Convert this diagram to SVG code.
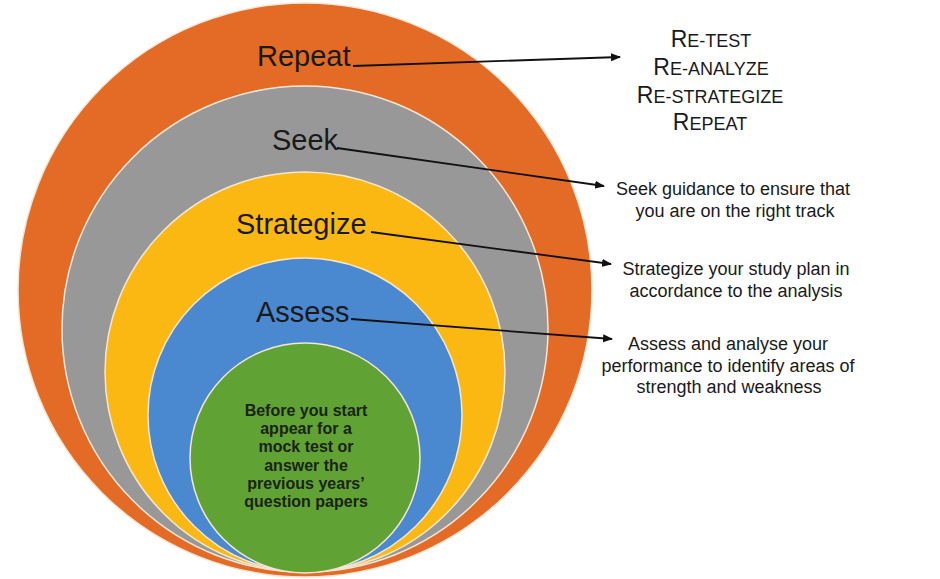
<svg xmlns="http://www.w3.org/2000/svg" width="940" height="579" viewBox="0 0 940 579">
<defs>
<style>
.ring{stroke:#f3e6d6;stroke-width:1.5}
.lbl{font-family:"Liberation Sans",Arial,sans-serif;font-size:29px;fill:#1a1a1a}
.desc{font-family:"Liberation Sans",Arial,sans-serif;font-size:18px;fill:#1a1a1a;text-anchor:middle}
.core{font-family:"Liberation Sans",Arial,sans-serif;font-size:16px;font-weight:bold;fill:#1b2414;text-anchor:middle}
.sc{font-family:"Liberation Sans",Arial,sans-serif;font-size:23px;fill:#1a1a1a;text-anchor:middle}
.sm{font-size:18px}
.conn{stroke:#111;stroke-width:1.8;fill:none;marker-end:url(#ah)}
</style>
<marker id="ah" markerWidth="10" markerHeight="8" refX="9" refY="4" orient="auto" markerUnits="userSpaceOnUse">
<path d="M0,0 L10,4 L0,8 Z" fill="#111"/>
</marker>
</defs>
<rect width="940" height="579" fill="#ffffff"/>
<g id="repeat">
<circle class="ring" cx="305" cy="290" r="287" fill="#E46B25"/>
<text class="lbl" x="257" y="66">Repeat</text>
</g>
<g id="seek">
<circle class="ring" cx="305" cy="329" r="243" fill="#989898"/>
<text class="lbl" x="272" y="150">Seek</text>
</g>
<g id="strategize">
<circle class="ring" cx="305" cy="372" r="200" fill="#FBB812"/>
<text class="lbl" x="236" y="234">Strategize</text>
</g>
<g id="assess">
<circle class="ring" cx="305" cy="415" r="157" fill="#4A88CF"/>
<text class="lbl" x="256" y="322">Assess</text>
</g>
<g id="start">
<circle class="ring" cx="305" cy="458" r="115" fill="#60A233"/>
<text class="core" x="306" y="416">Before you start</text>
<text class="core" x="306" y="434">appear for a</text>
<text class="core" x="306" y="452">mock test or</text>
<text class="core" x="306" y="471">answer the</text>
<text class="core" x="306" y="489">previous years’</text>
<text class="core" x="306" y="507">question papers</text>
</g>
<g id="repeat-desc">
<text class="sc" x="711" y="47">R<tspan class="sm">E-TEST</tspan></text>
<text class="sc" x="711" y="75">R<tspan class="sm">E-ANALYZE</tspan></text>
<text class="sc" x="710" y="103">R<tspan class="sm">E-STRATEGIZE</tspan></text>
<text class="sc" x="710" y="130">R<tspan class="sm">EPEAT</tspan></text>
</g>
<g id="seek-desc">
<text class="desc" x="733" y="195">Seek guidance to ensure that</text>
<text class="desc" x="735" y="217">you are on the right track</text>
</g>
<g id="strategize-desc">
<text class="desc" x="736" y="275">Strategize your study plan in</text>
<text class="desc" x="736" y="297">accordance to the analysis</text>
</g>
<g id="assess-desc">
<text class="desc" x="728" y="350">Assess and analyse your</text>
<text class="desc" x="728" y="372">performance to identify areas of</text>
<text class="desc" x="729" y="393">strength and weakness</text>
</g>
<g id="connectors">
<path class="conn" d="M353,66 L620,57"/>
<path class="conn" d="M337,148 L604,186"/>
<path class="conn" d="M371,232 L611,264"/>
<path class="conn" d="M351,319 L612,339"/>
</g>
</svg>
